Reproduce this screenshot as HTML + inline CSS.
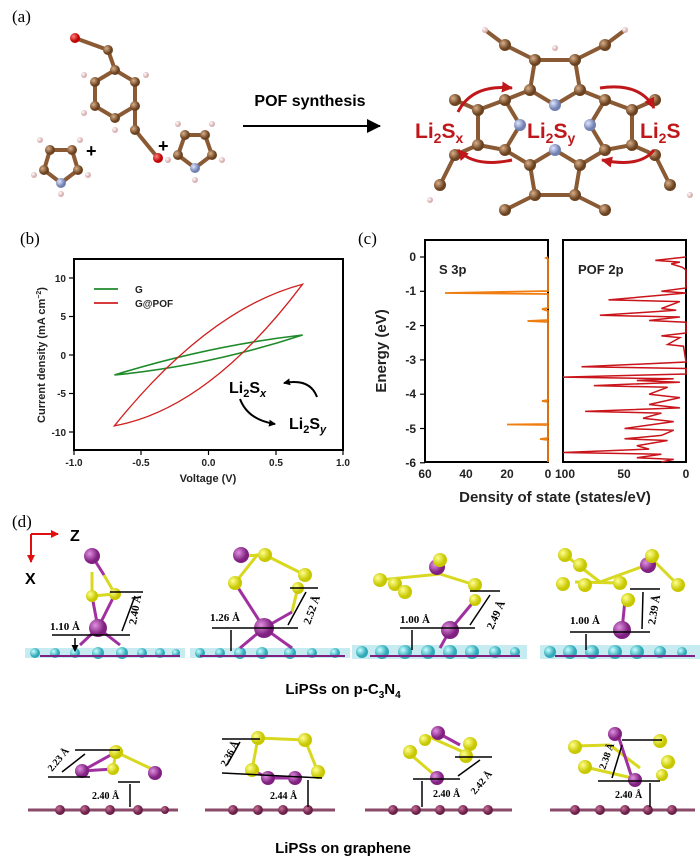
<!DOCTYPE html>
<html><head><meta charset="utf-8"><style>
body{margin:0;background:#fff}
svg{display:block}
.ser{font-family:"Liberation Serif",serif}
.sans{font-family:"Liberation Sans",sans-serif}
</style></head><body>
<svg width="700" height="864" viewBox="0 0 700 864" xmlns="http://www.w3.org/2000/svg">
<defs>
<radialGradient id="br" cx="35%" cy="35%"><stop offset="0" stop-color="#d9b08a"/><stop offset="1" stop-color="#6b4220"/></radialGradient>
<radialGradient id="hw" cx="35%" cy="35%"><stop offset="0" stop-color="#fff"/><stop offset="1" stop-color="#d8b0b0"/></radialGradient>
<radialGradient id="ox" cx="35%" cy="35%"><stop offset="0" stop-color="#ff8080"/><stop offset="1" stop-color="#c00000"/></radialGradient>
<radialGradient id="ni" cx="35%" cy="35%"><stop offset="0" stop-color="#e0e6ff"/><stop offset="1" stop-color="#7080b0"/></radialGradient>
<radialGradient id="ye" cx="35%" cy="35%"><stop offset="0" stop-color="#ffff90"/><stop offset="1" stop-color="#c8c800"/></radialGradient>
<radialGradient id="pu" cx="35%" cy="35%"><stop offset="0" stop-color="#e090e0"/><stop offset="1" stop-color="#802080"/></radialGradient>
<radialGradient id="cy" cx="35%" cy="35%"><stop offset="0" stop-color="#c8ffff"/><stop offset="1" stop-color="#30a8b8"/></radialGradient>
<radialGradient id="gr" cx="35%" cy="35%"><stop offset="0" stop-color="#c87098"/><stop offset="1" stop-color="#6a2048"/></radialGradient>
<marker id="ah" markerUnits="userSpaceOnUse" markerWidth="14" markerHeight="14" refX="13" refY="7" orient="auto"><path d="M0,0 L14,7 L0,14 z" fill="#000"/></marker>
<marker id="ahr" markerUnits="userSpaceOnUse" markerWidth="11" markerHeight="11" refX="10" refY="5.5" orient="auto"><path d="M0,0 L11,5.5 L0,11 z" fill="#c0171b"/></marker>
<marker id="ahs" markerUnits="userSpaceOnUse" markerWidth="7" markerHeight="7" refX="6" refY="3.5" orient="auto"><path d="M0,0 L7,3.5 L0,7 z" fill="#000"/></marker>
<marker id="ahx" markerUnits="userSpaceOnUse" markerWidth="8" markerHeight="8" refX="7" refY="4" orient="auto"><path d="M0,0 L8,4 L0,8 z" fill="#e01010"/></marker>
</defs>

<!-- (a) -->
<text x="12" y="22" class="ser" font-size="17">(a)</text>
<g stroke="#8a5a35" stroke-width="4" fill="none">
 <polygon points="50,150 72,150 78,170 61,183 44,170"/>
 <polygon points="115,70 135,82 135,106 115,118 95,106 95,82"/>
 <line x1="115" y1="70" x2="108" y2="50"/><line x1="108" y1="50" x2="75" y2="38"/>
 <line x1="135" y1="106" x2="135" y2="130"/><line x1="135" y1="130" x2="158" y2="158"/>
 <polygon points="185,135 205,135 212,155 195,168 178,155"/>
 <polygon points="535,60 575,60 580,90 555,105 530,90"/>
 <polygon points="478,110 505,100 520,125 505,150 478,145"/>
 <polygon points="632,110 605,100 590,125 605,150 632,145"/>
 <polygon points="530,165 555,150 580,165 575,195 535,195"/>
 <path d="M530,90 L505,100 M580,90 L605,100 M505,150 L530,165 M605,150 L580,165"/>
 <path d="M535,60 L505,45 L485,30 M575,60 L605,45 L625,30 M478,110 L455,100 M632,110 L655,100 M478,145 L455,155 L440,185 M632,145 L655,155 L670,185 M535,195 L505,210 M575,195 L605,210"/>
</g>
<g fill="url(#br)">
 <circle cx="50" cy="150" r="5"/><circle cx="72" cy="150" r="5"/><circle cx="78" cy="170" r="5"/><circle cx="44" cy="170" r="5"/>
 <circle cx="115" cy="70" r="5"/><circle cx="135" cy="82" r="5"/><circle cx="135" cy="106" r="5"/><circle cx="115" cy="118" r="5"/><circle cx="95" cy="106" r="5"/><circle cx="95" cy="82" r="5"/><circle cx="108" cy="50" r="5"/><circle cx="135" cy="130" r="5"/>
 <circle cx="185" cy="135" r="5"/><circle cx="205" cy="135" r="5"/><circle cx="212" cy="155" r="5"/><circle cx="178" cy="155" r="5"/>
 <circle cx="535" cy="60" r="6"/><circle cx="575" cy="60" r="6"/><circle cx="580" cy="90" r="6"/><circle cx="530" cy="90" r="6"/>
 <circle cx="478" cy="110" r="6"/><circle cx="505" cy="100" r="6"/><circle cx="505" cy="150" r="6"/><circle cx="478" cy="145" r="6"/>
 <circle cx="632" cy="110" r="6"/><circle cx="605" cy="100" r="6"/><circle cx="605" cy="150" r="6"/><circle cx="632" cy="145" r="6"/>
 <circle cx="530" cy="165" r="6"/><circle cx="580" cy="165" r="6"/><circle cx="575" cy="195" r="6"/><circle cx="535" cy="195" r="6"/>
 <circle cx="505" cy="45" r="6"/><circle cx="605" cy="45" r="6"/><circle cx="455" cy="100" r="6"/><circle cx="655" cy="100" r="6"/><circle cx="455" cy="155" r="6"/><circle cx="655" cy="155" r="6"/><circle cx="440" cy="185" r="6"/><circle cx="670" cy="185" r="6"/><circle cx="505" cy="210" r="6"/><circle cx="605" cy="210" r="6"/>
</g>
<g fill="url(#hw)">
 <circle cx="40" cy="140" r="3"/><circle cx="80" cy="140" r="3"/><circle cx="88" cy="175" r="3"/><circle cx="34" cy="175" r="3"/><circle cx="61" cy="194" r="3"/>
 <circle cx="146" cy="75" r="3"/><circle cx="84" cy="75" r="3"/><circle cx="84" cy="113" r="3"/><circle cx="115" cy="130" r="3"/>
 <circle cx="178" cy="124" r="3"/><circle cx="212" cy="124" r="3"/><circle cx="222" cy="160" r="3"/><circle cx="168" cy="160" r="3"/><circle cx="195" cy="180" r="3"/>
 <circle cx="485" cy="30" r="3"/><circle cx="625" cy="30" r="3"/><circle cx="555" cy="48" r="3"/><circle cx="690" cy="195" r="3"/><circle cx="430" cy="200" r="3"/>
</g>
<circle cx="75" cy="38" r="5" fill="url(#ox)"/><circle cx="158" cy="158" r="5" fill="url(#ox)"/>
<circle cx="61" cy="183" r="5" fill="url(#ni)"/><circle cx="195" cy="168" r="5" fill="url(#ni)"/>
<circle cx="555" cy="105" r="6" fill="url(#ni)"/><circle cx="520" cy="125" r="6" fill="url(#ni)"/><circle cx="590" cy="125" r="6" fill="url(#ni)"/><circle cx="555" cy="150" r="6" fill="url(#ni)"/>
<text x="86" y="157" class="sans" font-size="18" font-weight="bold">+</text>
<text x="158" y="152" class="sans" font-size="18" font-weight="bold">+</text>
<text x="310" y="106" class="sans" font-size="16" font-weight="bold" text-anchor="middle">POF synthesis</text>
<line x1="243" y1="126" x2="380" y2="126" stroke="#000" stroke-width="2" marker-end="url(#ah)"/>
<g class="sans" font-weight="bold" fill="#c0171b" font-size="21">
 <text x="415" y="138">Li<tspan font-size="14" dy="5">2</tspan><tspan dy="-5">S</tspan><tspan font-size="14" dy="5">x</tspan></text>
 <text x="527" y="138">Li<tspan font-size="14" dy="5">2</tspan><tspan dy="-5">S</tspan><tspan font-size="14" dy="5">y</tspan></text>
 <text x="640" y="138">Li<tspan font-size="14" dy="5">2</tspan><tspan dy="-5">S</tspan></text>
</g>
<g stroke="#c0171b" stroke-width="3" fill="none">
 <path d="M458,112 Q472,84 512,88" marker-end="url(#ahr)"/>
 <path d="M512,160 Q475,168 458,150" marker-end="url(#ahr)"/>
 <path d="M600,88 Q640,82 654,108" marker-end="url(#ahr)"/>
 <path d="M654,150 Q640,168 602,160" marker-end="url(#ahr)"/>
</g>

<!-- (b) -->
<text x="20" y="244" class="ser" font-size="17">(b)</text>
<rect x="74" y="259" width="269" height="191" fill="none" stroke="#000" stroke-width="2"/>
<g stroke="#000" stroke-width="1.2">
 <line x1="74" y1="450" x2="74" y2="455"/><line x1="141" y1="450" x2="141" y2="455"/><line x1="208.5" y1="450" x2="208.5" y2="455"/><line x1="276" y1="450" x2="276" y2="455"/><line x1="343" y1="450" x2="343" y2="455"/>
 <line x1="74" y1="278" x2="69" y2="278"/><line x1="74" y1="316.5" x2="69" y2="316.5"/><line x1="74" y1="355" x2="69" y2="355"/><line x1="74" y1="393.5" x2="69" y2="393.5"/><line x1="74" y1="432" x2="69" y2="432"/>
</g>
<g class="sans" font-size="10" font-weight="bold" fill="#222">
 <g text-anchor="middle"><text x="74" y="466">-1.0</text><text x="141" y="466">-0.5</text><text x="208.5" y="466">0.0</text><text x="276" y="466">0.5</text><text x="343" y="466">1.0</text></g>
 <g text-anchor="end"><text x="66" y="282">10</text><text x="66" y="320">5</text><text x="66" y="359">0</text><text x="66" y="397">-5</text><text x="66" y="436">-10</text></g>
 <text x="208" y="482" text-anchor="middle" font-size="11">Voltage (V)</text>
 <text transform="translate(45,355) rotate(-90)" text-anchor="middle" font-size="11">Current density (mA cm<tspan font-size="7" dy="-4">−2</tspan><tspan dy="4">)</tspan></text>
 <text x="135" y="293">G</text><text x="135" y="307">G@POF</text>
</g>
<line x1="94" y1="289" x2="118" y2="289" stroke="#1f8a2a" stroke-width="1.8"/>
<line x1="94" y1="303" x2="118" y2="303" stroke="#d02020" stroke-width="1.8"/>
<path d="M114.4,375 Q208.5,345.8 302.6,335 Q208.5,365.8 114.4,375Z" fill="none" stroke="#1f8a2a" stroke-width="1.6"/>
<path d="M114.4,425.8 Q208.5,309 302.6,284.2 Q208.5,409 114.4,425.8Z" fill="none" stroke="#d02020" stroke-width="1.3"/>
<g class="sans" font-size="16" font-weight="bold">
 <text x="229" y="393">Li<tspan font-size="11" dy="4">2</tspan><tspan dy="-4">S</tspan><tspan font-size="11" dy="4" font-style="italic">x</tspan></text>
 <text x="289" y="429">Li<tspan font-size="11" dy="4">2</tspan><tspan dy="-4">S</tspan><tspan font-size="11" dy="4" font-style="italic">y</tspan></text>
</g>
<path d="M317,397 Q310,378 284,383" fill="none" stroke="#000" stroke-width="2" marker-end="url(#ahs)"/>
<path d="M240,399 Q248,420 275,424" fill="none" stroke="#000" stroke-width="2" marker-end="url(#ahs)"/>

<!-- (c) -->
<text x="358" y="244" class="ser" font-size="17">(c)</text>
<rect x="425" y="240" width="123" height="222" fill="none" stroke="#000" stroke-width="2"/>
<rect x="563" y="240" width="123" height="222" fill="none" stroke="#000" stroke-width="2"/>
<g stroke="#000" stroke-width="1.2">
 <line x1="425" y1="257" x2="420" y2="257"/><line x1="425" y1="291.3" x2="420" y2="291.3"/><line x1="425" y1="325.6" x2="420" y2="325.6"/><line x1="425" y1="359.9" x2="420" y2="359.9"/><line x1="425" y1="394.2" x2="420" y2="394.2"/><line x1="425" y1="428.5" x2="420" y2="428.5"/><line x1="425" y1="462.8" x2="420" y2="462.8"/>
</g>
<g class="sans" font-size="12" font-weight="bold" fill="#222">
 <g text-anchor="end"><text x="416" y="261">0</text><text x="416" y="295">-1</text><text x="416" y="330">-2</text><text x="416" y="364">-3</text><text x="416" y="398">-4</text><text x="416" y="433">-5</text><text x="416" y="467">-6</text></g>
 <g text-anchor="middle"><text x="425" y="478">60</text><text x="466" y="478">40</text><text x="507" y="478">20</text><text x="548" y="478">0</text><text x="565" y="478">100</text><text x="624" y="478">50</text><text x="686" y="478">0</text></g>
 <text x="555" y="502" text-anchor="middle" font-size="15">Density of state (states/eV)</text>
 <text transform="translate(386,351) rotate(-90)" text-anchor="middle" font-size="15">Energy (eV)</text>
 <text x="439" y="274" font-size="13">S 3p</text>
 <text x="578" y="274" font-size="13">POF 2p</text>
</g>
<polyline fill="none" stroke="#f07d10" stroke-width="1.8" points="548,257 546,258 548,259 548,291 445,293 548,294 548,308 542,309 548,311 548,320 527.5,321 548,322 548,400 542,401 548,402 548,424 507,424.5 548,425 548,438 540,439 548,440 548,462"/>
<polyline fill="none" stroke="#c8141a" stroke-width="1.5" points="686,257 655.3,260.4 679.9,262.1 671.2,263.9 682.3,267.3 686,270 686,288 661.4,291.3 686,293 608.5,299.9 679.9,301.6 661.4,308.5 676.2,310.2 599.9,315.3 679.9,317 649.1,320.5 686,322.2 686,333 661.4,335.9 679.9,337.6 667.6,344.5 683.5,346.2 686,362 581.5,366.8 686,368.5 686,374 563,377.1 673.7,378.8 636.8,380.5 679.9,382.2 593.8,385.6 667.6,387.3 649.1,394.2 679.9,397.6 649.1,404.5 679.9,407.9 585.1,411.4 661.4,413.1 643,418.2 673.7,421.6 624.5,428.5 673.7,430.2 661.4,435.4 624.5,438.8 667.6,440.5 636.8,445.7 649.1,449.1 563,452.5 661.4,454.2 636.8,457.7 673.7,459.4 661.4,462"/>

<!-- (d) -->
<text x="12" y="527" class="ser" font-size="17">(d)</text>
<g stroke="#e01010" stroke-width="2"><line x1="31" y1="534" x2="58" y2="534" marker-end="url(#ahx)"/><line x1="31" y1="534" x2="31" y2="562" marker-end="url(#ahx)"/></g>
<text x="70" y="541" class="sans" font-size="16" font-weight="bold">Z</text>
<text x="25" y="584" class="sans" font-size="16" font-weight="bold">X</text>

<g>
 <rect x="25" y="648" width="160" height="10" fill="#a0e0e8" opacity="0.6"/>
 <rect x="190" y="648" width="160" height="10" fill="#a0e0e8" opacity="0.6"/>
 <rect x="352" y="645" width="175" height="14" fill="#a0e0e8" opacity="0.6"/>
 <rect x="540" y="645" width="160" height="14" fill="#a0e0e8" opacity="0.6"/>
 <g fill="url(#cy)">
  <circle cx="35" cy="653" r="5"/><circle cx="55" cy="653" r="5"/><circle cx="75" cy="653" r="5"/><circle cx="98" cy="653" r="6"/><circle cx="122" cy="653" r="6"/><circle cx="142" cy="653" r="5"/><circle cx="160" cy="653" r="5"/><circle cx="176" cy="653" r="4"/>
  <circle cx="200" cy="653" r="5"/><circle cx="220" cy="653" r="5"/><circle cx="240" cy="653" r="6"/><circle cx="262" cy="653" r="6"/><circle cx="290" cy="653" r="6"/><circle cx="312" cy="653" r="5"/><circle cx="335" cy="653" r="5"/>
  <circle cx="362" cy="652" r="6"/><circle cx="382" cy="652" r="7"/><circle cx="405" cy="652" r="7"/><circle cx="428" cy="652" r="7"/><circle cx="450" cy="652" r="7"/><circle cx="472" cy="652" r="7"/><circle cx="495" cy="652" r="6"/><circle cx="515" cy="652" r="5"/>
  <circle cx="550" cy="652" r="6"/><circle cx="570" cy="652" r="7"/><circle cx="592" cy="652" r="7"/><circle cx="615" cy="652" r="7"/><circle cx="637" cy="652" r="7"/><circle cx="660" cy="652" r="6"/><circle cx="682" cy="652" r="5"/>
 </g>
 <g stroke="#802080" stroke-width="2"><line x1="40" y1="656" x2="180" y2="656"/><line x1="200" y1="656" x2="345" y2="656"/><line x1="370" y1="656" x2="520" y2="656"/><line x1="555" y1="656" x2="695" y2="656"/></g>
</g>
<g stroke-width="3" fill="none">
 <g stroke="#d8d820"><line x1="92" y1="572" x2="92" y2="596"/><line x1="92" y1="596" x2="115" y2="594"/><line x1="115" y1="594" x2="104" y2="575"/><line x1="235" y1="556" x2="265" y2="555"/><line x1="265" y1="555" x2="305" y2="575"/><line x1="235" y1="583" x2="258" y2="554"/><line x1="298" y1="587" x2="292" y2="612"/><line x1="380" y1="580" x2="440" y2="574"/><line x1="440" y1="574" x2="475" y2="585"/><line x1="395" y1="583" x2="405" y2="592"/><line x1="565" y1="555" x2="600" y2="582"/><line x1="600" y1="582" x2="655" y2="562"/><line x1="655" y1="562" x2="678" y2="585"/><line x1="575" y1="582" x2="620" y2="583"/></g>
 <g stroke="#a030a0"><line x1="92" y1="556" x2="104" y2="575"/><line x1="92" y1="596" x2="98" y2="628"/><line x1="115" y1="594" x2="98" y2="628"/><line x1="98" y1="628" x2="80" y2="645"/><line x1="98" y1="628" x2="120" y2="645"/><line x1="235" y1="583" x2="264" y2="628"/><line x1="292" y1="612" x2="264" y2="628"/><line x1="264" y1="628" x2="240" y2="648"/><line x1="264" y1="628" x2="292" y2="648"/><line x1="475" y1="600" x2="450" y2="630"/><line x1="450" y1="630" x2="440" y2="648"/><line x1="625" y1="600" x2="622" y2="630"/></g>
</g>
<g fill="url(#pu)">
 <circle cx="92" cy="556" r="8"/><circle cx="98" cy="628" r="9"/>
 <circle cx="241" cy="555" r="8"/><circle cx="264" cy="628" r="10"/>
 <circle cx="437" cy="567" r="8"/><circle cx="450" cy="630" r="9"/>
 <circle cx="648" cy="565" r="8"/><circle cx="622" cy="630" r="9"/>
</g>
<g fill="url(#ye)">
 <circle cx="92" cy="596" r="6"/><circle cx="115" cy="594" r="6"/>
 <circle cx="265" cy="555" r="7"/><circle cx="305" cy="575" r="7"/><circle cx="235" cy="583" r="7"/><circle cx="298" cy="588" r="6"/>
 <circle cx="380" cy="580" r="7"/><circle cx="395" cy="584" r="7"/><circle cx="405" cy="592" r="7"/><circle cx="440" cy="560" r="7"/><circle cx="475" cy="585" r="7"/><circle cx="475" cy="600" r="6"/>
 <circle cx="565" cy="555" r="7"/><circle cx="580" cy="565" r="7"/><circle cx="563" cy="584" r="7"/><circle cx="585" cy="585" r="7"/><circle cx="620" cy="583" r="7"/><circle cx="628" cy="600" r="7"/><circle cx="652" cy="556" r="7"/><circle cx="678" cy="585" r="7"/>
</g>
<g stroke="#000" stroke-width="1.5">
 <line x1="52" y1="635" x2="130" y2="635"/><line x1="110" y1="592" x2="143" y2="592"/><line x1="75" y1="638" x2="75" y2="651" marker-end="url(#ahs)"/>
 <line x1="212" y1="628" x2="298" y2="628"/><line x1="290" y1="588" x2="318" y2="588"/><line x1="231" y1="630" x2="231" y2="651"/>
 <line x1="400" y1="628" x2="475" y2="628"/><line x1="470" y1="591" x2="500" y2="591"/><line x1="412" y1="630" x2="412" y2="650"/>
 <line x1="570" y1="632" x2="650" y2="632"/><line x1="630" y1="589" x2="660" y2="589"/><line x1="586" y1="634" x2="586" y2="650"/>
 <line x1="122" y1="631" x2="135" y2="596"/><line x1="288" y1="625" x2="306" y2="592"/><line x1="470" y1="625" x2="490" y2="595"/><line x1="642" y1="629" x2="643" y2="592"/>
</g>
<g class="ser" font-size="11" font-weight="bold">
 <text x="50" y="630">1.10 Å</text><text x="210" y="621">1.26 Å</text><text x="400" y="623">1.00 Å</text><text x="570" y="624">1.00 Å</text>
 <text transform="translate(136,625) rotate(-80)">2.40 Å</text>
 <text transform="translate(310,625) rotate(-70)">2.52 Å</text>
 <text transform="translate(493,630) rotate(-66)">2.49 Å</text>
 <text transform="translate(655,625) rotate(-80)">2.39 Å</text>
</g>
<text x="343" y="694" class="sans" font-size="15" font-weight="bold" text-anchor="middle">LiPSs on p-C<tspan font-size="10" dy="4">3</tspan><tspan dy="-4">N</tspan><tspan font-size="10" dy="4">4</tspan></text>

<g stroke="#8a4a6a" stroke-width="3">
 <line x1="28" y1="810" x2="178" y2="810"/><line x1="205" y1="810" x2="335" y2="810"/><line x1="365" y1="810" x2="512" y2="810"/><line x1="550" y1="810" x2="695" y2="810"/>
</g>
<g fill="url(#gr)">
 <circle cx="60" cy="810" r="5"/><circle cx="85" cy="810" r="5"/><circle cx="110" cy="810" r="5"/><circle cx="138" cy="810" r="5"/><circle cx="165" cy="810" r="4"/>
 <circle cx="233" cy="810" r="5"/><circle cx="258" cy="810" r="5"/><circle cx="283" cy="810" r="5"/><circle cx="308" cy="810" r="5"/>
 <circle cx="393" cy="810" r="5"/><circle cx="416" cy="810" r="5"/><circle cx="440" cy="810" r="5"/><circle cx="463" cy="810" r="5"/><circle cx="488" cy="810" r="5"/>
 <circle cx="575" cy="810" r="5"/><circle cx="600" cy="810" r="5"/><circle cx="625" cy="810" r="5"/><circle cx="648" cy="810" r="5"/><circle cx="672" cy="810" r="5"/>
</g>
<g stroke-width="3">
 <g stroke="#d8d820"><line x1="116" y1="752" x2="113" y2="769"/><line x1="116" y1="752" x2="156" y2="771"/><line x1="258" y1="738" x2="305" y2="740"/><line x1="258" y1="738" x2="252" y2="770"/><line x1="305" y1="740" x2="318" y2="772"/><line x1="425" y1="735" x2="470" y2="755"/><line x1="410" y1="754" x2="438" y2="778"/><line x1="575" y1="746" x2="610" y2="745"/><line x1="610" y1="745" x2="640" y2="768"/><line x1="585" y1="767" x2="632" y2="778"/></g>
 <g stroke="#a030a0"><line x1="116" y1="752" x2="82" y2="771"/><line x1="113" y1="769" x2="82" y2="771"/><line x1="252" y1="770" x2="268" y2="778"/><line x1="268" y1="778" x2="295" y2="778"/><line x1="438" y1="733" x2="460" y2="745"/><line x1="618" y1="735" x2="632" y2="778"/></g>
</g>
<g fill="url(#pu)"><circle cx="82" cy="771" r="7"/><circle cx="155" cy="773" r="7"/><circle cx="268" cy="778" r="7"/><circle cx="295" cy="778" r="7"/><circle cx="438" cy="733" r="7"/><circle cx="437" cy="778" r="7"/><circle cx="615" cy="734" r="7"/><circle cx="635" cy="780" r="7"/></g>
<g fill="url(#ye)"><circle cx="116" cy="752" r="7"/><circle cx="113" cy="769" r="6"/><circle cx="258" cy="738" r="7"/><circle cx="305" cy="740" r="7"/><circle cx="252" cy="770" r="7"/><circle cx="318" cy="772" r="7"/><circle cx="425" cy="740" r="6"/><circle cx="410" cy="752" r="7"/><circle cx="470" cy="744" r="7"/><circle cx="466" cy="756" r="7"/><circle cx="575" cy="747" r="7"/><circle cx="585" cy="767" r="7"/><circle cx="660" cy="741" r="7"/><circle cx="668" cy="762" r="7"/><circle cx="662" cy="775" r="6"/></g>
<g stroke="#000" stroke-width="1.5">
 <line x1="75" y1="750" x2="120" y2="750"/><line x1="48" y1="777" x2="90" y2="777"/><line x1="118" y1="782" x2="140" y2="782"/><line x1="130" y1="784" x2="130" y2="807"/>
 <line x1="222" y1="739" x2="260" y2="739"/><line x1="222" y1="773" x2="322" y2="778"/><line x1="308" y1="780" x2="308" y2="807"/>
 <line x1="413" y1="779" x2="460" y2="779"/><line x1="455" y1="757" x2="492" y2="757"/><line x1="422" y1="781" x2="422" y2="807"/>
 <line x1="598" y1="781" x2="660" y2="781"/><line x1="622" y1="740" x2="662" y2="740"/><line x1="650" y1="783" x2="650" y2="807"/>
 <line x1="62" y1="772" x2="85" y2="754"/><line x1="227" y1="765" x2="240" y2="742"/><line x1="458" y1="776" x2="480" y2="760"/><line x1="612" y1="778" x2="622" y2="745"/>
</g>
<g class="ser" font-size="10" font-weight="bold">
 <text transform="translate(52,772) rotate(-50)">2.23 Å</text>
 <text x="92" y="799">2.40 Å</text>
 <text transform="translate(226,767) rotate(-62)">2.36 Å</text>
 <text x="270" y="799">2.44 Å</text>
 <text transform="translate(475,795) rotate(-50)">2.42 Å</text>
 <text x="433" y="797">2.40 Å</text>
 <text transform="translate(605,770) rotate(-70)">2.38 Å</text>
 <text x="615" y="798">2.40 Å</text>
</g>
<text x="343" y="853" class="sans" font-size="15" font-weight="bold" text-anchor="middle">LiPSs on graphene</text>
</svg>
</body></html>
